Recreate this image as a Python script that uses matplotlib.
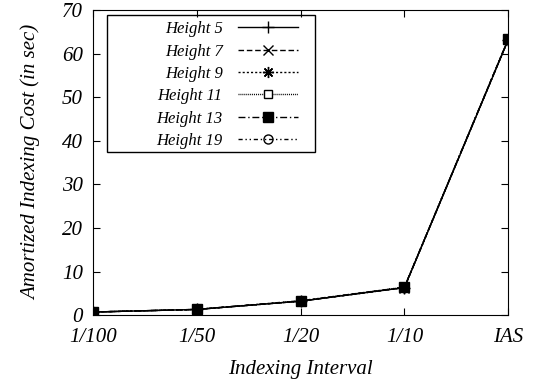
import matplotlib
matplotlib.use('Agg')
import matplotlib.pyplot as plt
from matplotlib.patches import Rectangle

plt.rcParams['font.family'] = ['Liberation Serif', 'DejaVu Serif']
plt.rcParams['font.style'] = 'italic'

intervals = ['1/100', '1/50', '1/20', '1/10', 'IAS']
h5 = [0.7, 1.3, 3.2, 6.3, 63.2]
h7 = [0.7, 1.3, 3.2, 6.3, 63.3]
h9 = [0.7, 1.3, 3.2, 6.3, 63.2]
h11 = [0.7, 1.3, 3.2, 6.4, 63.3]
h13 = [0.7, 1.3, 3.2, 6.4, 63.3]
h19 = [0.7, 1.3, 3.3, 6.4, 63.4]

fig = plt.figure(figsize=(5.43, 3.89), dpi=100)
ax = fig.add_axes([0.171, 0.19, 0.765, 0.784])
x = range(len(intervals))

ax.plot(x, h5, color='black', lw=1, ls='-', marker='+', ms=9, label='Height 5')
ax.plot(x, h7, color='black', lw=1, ls=(0, (4, 2)), marker='x', ms=7, label='Height 7')
ax.plot(x, h9, color='black', lw=1, ls=(0, (1.5, 1.5)), marker=(8, 2, 0), ms=8, label='Height 9')
ax.plot(x, h11, color='black', lw=1, ls=(0, (0.7, 0.7)), marker='s', ms=6, mfc='white', label='Height 11')
ax.plot(x, h13, color='black', lw=1, ls=(0, (5, 2, 1, 2)), marker='s', ms=7, label='Height 13')
ax.plot(x, h19, color='black', lw=1, ls=(0, (3, 2, 1, 2, 1, 2)), marker='o', ms=6.5, mfc='none', label='Height 19')

ax.set_xlim(0, 4)
ax.set_ylim(0, 70)
ax.set_xticks(list(x))
ax.set_xticklabels(intervals)
ax.set_yticks(range(0, 71, 10))
ax.tick_params(direction='in', top=True, right=True, labelsize=15, length=5, pad=7)
ax.tick_params(axis='x', pad=9)
ax.set_xlabel('Indexing Interval', fontsize=15, labelpad=10)
ax.set_ylabel('Amortized Indexing Cost (in sec)', fontsize=15, labelpad=15)

# legend without frame, frame drawn as a box like gnuplot's key
leg = ax.legend(loc='upper right', bbox_to_anchor=(306 / 543, 1 - 13 / 389),
                bbox_transform=fig.transFigure, markerfirst=False, fontsize=12,
                handlelength=3.6, handletextpad=0.9, frameon=False,
                borderpad=0, labelspacing=0.38)
for t in leg.get_texts():
    t.set_ha('right')
leg._legend_box.align = 'right'
fig.patches.append(Rectangle((107 / 543, 1 - 152 / 389), 208 / 543, 137 / 389,
                             transform=fig.transFigure, fill=False,
                             edgecolor='black', lw=1, zorder=5))

fig.savefig('out.png', dpi=100)
